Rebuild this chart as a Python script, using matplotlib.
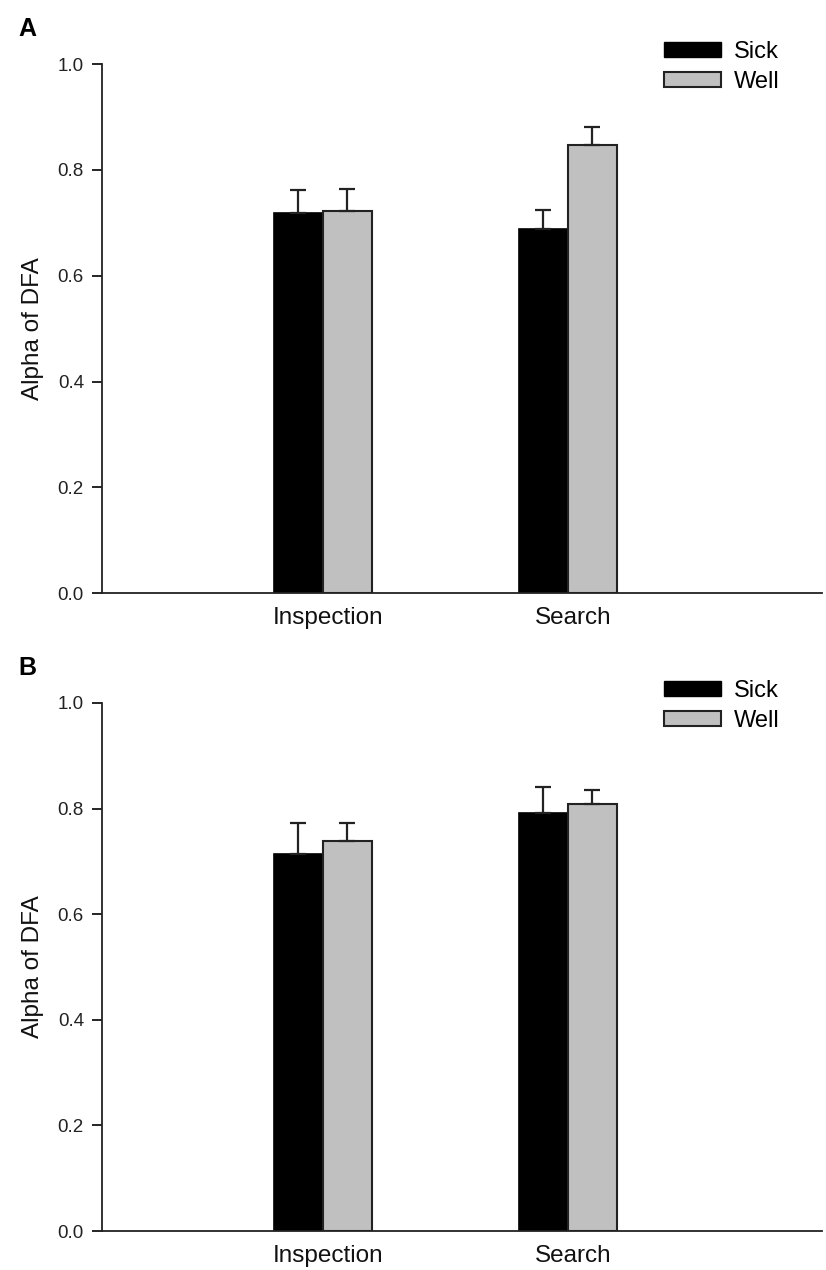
import numpy as np
import matplotlib
matplotlib.use("Agg")
from matplotlib import pyplot as plt
from matplotlib.patches import Patch

plt.rcParams['font.family'] = ['Liberation Sans', 'DejaVu Sans']

# data
groups = ['Inspection', 'Search']
series = ['Sick', 'Well']
colors = ['#000000', '#c0c0c0']

# panel A
a_sick = [0.719, 0.689]
a_sick_err = [0.043, 0.036]
a_well = [0.722, 0.848]
a_well_err = [0.042, 0.033]

# panel B
b_sick = [0.713, 0.792]
b_sick_err = [0.060, 0.048]
b_well = [0.738, 0.809]
b_well_err = [0.035, 0.026]

fig = plt.figure(figsize=(8.26, 12.7), dpi=100)
axA = fig.add_axes([0.1235, 0.533, 0.8715, 0.4165])
axB = fig.add_axes([0.1235, 0.0307, 0.8715, 0.4158])

def draw(ax, sick, sick_err, well, well_err, letter, leg_top):
    x = np.arange(1, len(groups) + 1)
    w = 0.2
    zeros = np.zeros(len(groups))
    ekw = dict(ecolor='#222222', elinewidth=1.6, capsize=6, capthick=1.6)
    ax.bar(x - w / 2, sick, w, color=colors[0], edgecolor='black', linewidth=1.2,
           yerr=[zeros, sick_err], error_kw=ekw)
    ax.bar(x + w / 2, well, w, color=colors[1], edgecolor='#222222', linewidth=1.5,
           yerr=[zeros, well_err], error_kw=ekw)
    ax.set_xlim(0.098, 3.037)
    ax.set_ylim(0, 1.0)
    ticks = [0.0, 0.2, 0.4, 0.6, 0.8, 1.0]
    ax.set_yticks(ticks)
    ax.set_yticklabels(['%.1f' % v for v in ticks], fontsize=13.5, color='#222222')
    # labels sit slightly right of the group centres, as in the original
    ax.set_xticks(x + 0.02)
    ax.set_xticklabels(groups, fontsize=17.5, color='#111111')
    ax.tick_params(axis='x', length=0, pad=10)
    ax.tick_params(axis='y', direction='out', length=7, width=1.2, pad=6)
    ax.spines['top'].set_visible(False)
    ax.spines['right'].set_visible(False)
    for s in ['left', 'bottom']:
        ax.spines[s].set_linewidth(1.3)
        ax.spines[s].set_color('#222222')
    ax.set_ylabel('Alpha of DFA', fontsize=17.5, color='#111111', labelpad=10)
    handles = [Patch(facecolor=colors[0], edgecolor='black', label=series[0]),
               Patch(facecolor=colors[1], edgecolor='#222222', linewidth=1.5, label=series[1])]
    fig.legend(handles=handles, loc='upper left', bbox_to_anchor=(0.804, leg_top), frameon=False,
               borderpad=0, borderaxespad=0, fontsize=17, handlelength=2.41, handleheight=0.64,
               handletextpad=0.55, labelspacing=0.34)
    fig.text(27 / 826, ax.get_position().y1 + 35 / 1270, letter, fontsize=18, fontweight='bold',
             ha='center', va='center')

draw(axA, a_sick, a_sick_err, a_well, a_well_err, 'A', 0.9678)
draw(axB, b_sick, b_sick_err, b_well, b_well_err, 'B', 0.4646)

fig.savefig('out.png', dpi=100)
